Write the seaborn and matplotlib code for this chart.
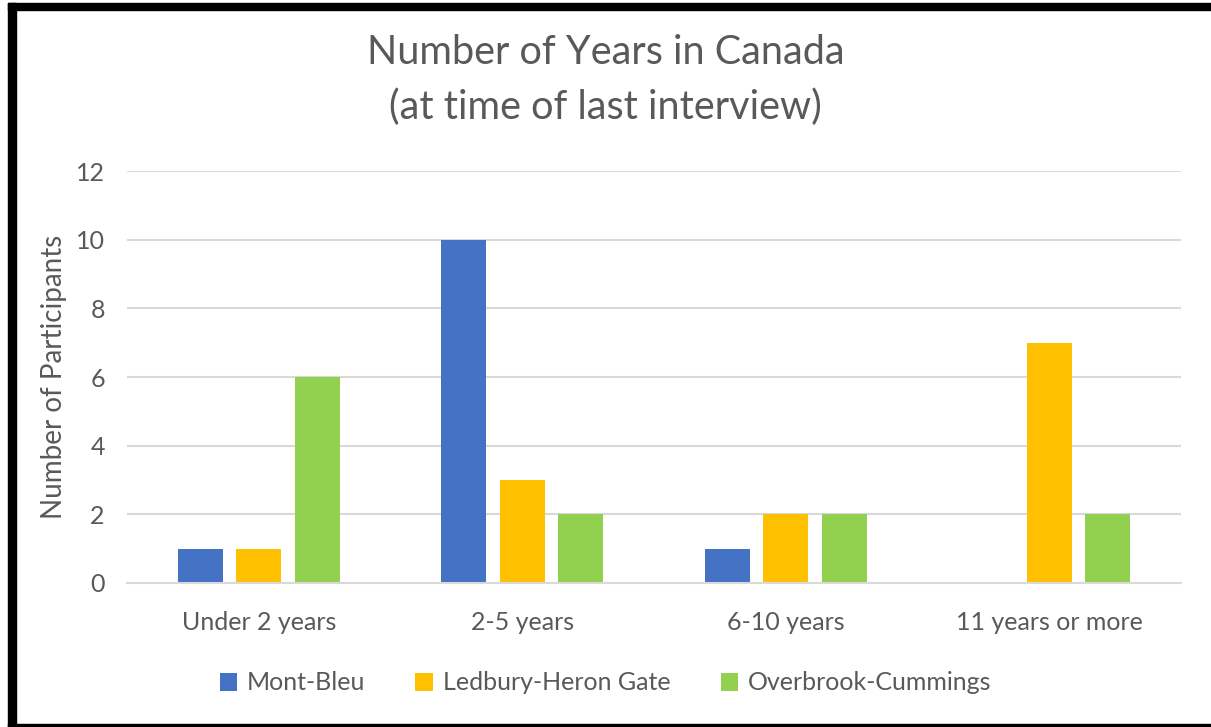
import matplotlib
matplotlib.use("Agg")
import matplotlib.pyplot as plt
import seaborn as sns
import pandas as pd
from matplotlib.patches import Rectangle

categories = ["Under 2 years", "2-5 years", "6-10 years", "11 years or more"]
areas = ["Mont-Bleu", "Ledbury-Heron Gate", "Overbrook-Cummings"]
mont_bleu = [1, 10, 1, 0]
ledbury = [1, 3, 2, 7]
overbrook = [6, 2, 2, 2]
colors = ["#4472C4", "#FFC000", "#92D050"]

rows = []
for area, vals in zip(areas, [mont_bleu, ledbury, overbrook]):
    for cat, v in zip(categories, vals):
        rows.append({"Years": cat, "Area": area, "Participants": v})
df = pd.DataFrame(rows)

sns.set_style("white")
plt.rcParams["font.family"] = ["Lato", "DejaVu Sans"]
txt = "#595959"
grid = "#D9D9D9"

fig = plt.figure(figsize=(12.11, 7.27), dpi=100)
ax = fig.add_axes([127 / 1211, 1 - 583 / 727, (1181 - 127) / 1211, (583 - 171) / 727])

sns.barplot(data=df, x="Years", y="Participants", hue="Area", order=categories,
            hue_order=areas, palette=colors, width=0.667, gap=0.23, saturation=1,
            linewidth=0, ax=ax, legend=True)

ax.set_ylim(0, 12)
ax.set_yticks(range(0, 13, 2))
ax.yaxis.grid(True, color=grid, linewidth=1.5)
ax.set_axisbelow(True)
for s in ["top", "right", "left"]:
    ax.spines[s].set_visible(False)
ax.spines["bottom"].set_color(grid)
ax.spines["bottom"].set_linewidth(1.5)
ax.tick_params(axis="both", length=0, colors=txt, labelsize=18)
ax.tick_params(axis="y", pad=16)
ax.tick_params(axis="x", pad=20)
ax.set_xlabel("")
ax.set_ylabel("Number of Participants", color=txt, fontsize=20, labelpad=6)

fig.text(0.5, 1 - 53 / 727, "Number of Years in Canada", ha="center", va="center",
         fontsize=28.5, color=txt)
fig.text(0.5, 1 - 107 / 727, "(at time of last interview)", ha="center", va="center",
         fontsize=28.5, color=txt)

handles, labels = ax.get_legend_handles_labels()
ax.legend_.remove()
fig.legend(handles, labels, loc="center", bbox_to_anchor=(0.5, 1 - 683 / 727), ncol=3,
           frameon=False, fontsize=18, handlelength=0.7, handleheight=0.7,
           handletextpad=0.4, columnspacing=2.0, labelcolor=txt)

# black frame around the picture
fig.add_artist(Rectangle((8 / 1211, 0), 8 / 1211, 1 - 3 / 727, transform=fig.transFigure,
                         color="black", zorder=10))
fig.add_artist(Rectangle((8 / 1211, 1 - 10 / 727), 1, 7 / 727, transform=fig.transFigure,
                         color="black", zorder=10))
fig.add_artist(Rectangle((8 / 1211, 0), 1, 3 / 727, transform=fig.transFigure,
                         color="black", zorder=10))

fig.savefig("out.png", dpi=100)
